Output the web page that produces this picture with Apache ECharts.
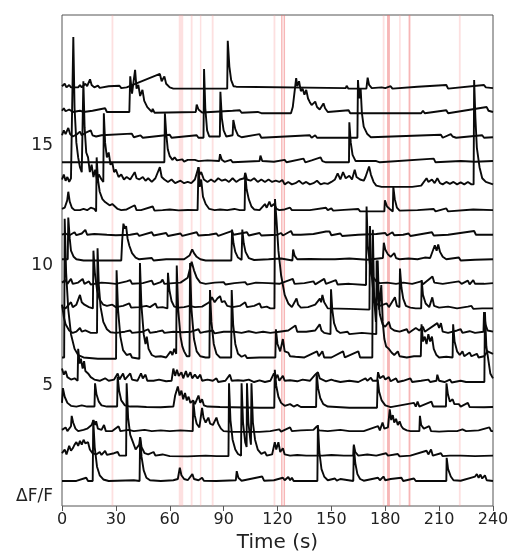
<!DOCTYPE html>
<html>
<head>
<meta charset="utf-8">
<script src="https://cdn.jsdelivr.net/npm/echarts@6/dist/echarts.min.js"></script>
<style>
  html, body { margin: 0; padding: 0; background: #fff; }
  #main { width: 512px; height: 558px; }
</style>
</head>
<body>
<div id="main"></div>
<script>
// time ticks (s)
var timeTicks = [0, 30, 60, 90, 120, 150, 180, 210, 240];
// y labels and where they sit (in trace-spacing units)
var yLabelText = ['ΔF/F', '5', '10', '15'];
var yLabelPos = [0.4, 4.9, 9.8, 14.7];
// stimulus bands [start, end] in s
var lightBands = [[27.6,28.6],[65,67.5],[71.7,72.7],[76.8,77.6],[83.4,84.4],[117.8,118.8],[178.6,179.6],[187.7,188.6],[221,222]];
var darkBands = [[122,122.8],[123.4,124.2],[181,182.6],[193,194]];

// traces: [time, dF/F in trace-spacing units], bottom (0) to top (16)
var trace0 = [[0,0.02],[8,0.02],[13.5,0.15],[14.5,0.02],[17.1,0.02],[17.4,2.5],[18.2,1.4],[19.5,0.6],[21,0.25],[23,0.08],[26,0.02],[40,0.05],[43.2,0.02],[43.5,1.8],[44.3,1.0],[45.5,0.45],[47,0.15],[49,0.05],[55,0.02],[62,0.05],[64.5,0.1],[65.6,0.56],[66.5,0.25],[68,0.1],[70,0.05],[72.6,0.3],[73.5,0.1],[76,0.05],[78,0.15],[79,0.03],[86,0.02],[96.8,0.05],[97.3,0.42],[98.2,0.15],[100,0.03],[111.5,0.2],[112.5,0.03],[118,0.05],[123,0.15],[124,0.05],[126,0.18],[127,0.05],[128,0.15],[129,0.02],[142.2,0.02],[142.5,2.3],[143.3,1.2],[144.5,0.5],[146,0.2],[148,0.05],[152,0.12],[153,0.03],[155,0.1],[156,0.02],[162.2,0.02],[162.5,1.44],[163.3,0.75],[164.5,0.3],[166,0.1],[168,0.03],[176,0.15],[177,0.05],[179,0.2],[180,0.05],[183,0.1],[184,0.02],[189,0.15],[190,0.02],[196,0.12],[197,0.02],[214,0.02],[214.2,0.96],[215,0.5],[216.5,0.2],[218,0.05],[222,0.03],[230,0.2],[231,0.3],[232,0.15],[233,0.28],[234,0.12],[235.5,0.25],[236.5,0.05],[240,0.02]];
var trace1 = [[0,0.15],[1.5,0.3],[2.5,0.1],[4,0.45],[5,0.25],[6,0.35],[7,0.5],[8,0.6],[9,0.45],[10,0.65],[11,0.5],[12,0.7],[13,0.55],[14.5,0.6],[15.5,0.3],[17,0.15],[19,0.1],[21,0.2],[22,0.08],[24,0.25],[25,0.08],[29,0.15],[31,0.2],[32,0.05],[35.7,0.05],[36,3.0],[36.8,1.6],[38,0.9],[39.5,0.6],[41,0.3],[43,0.5],[43.5,0.8],[44.3,0.4],[46,0.15],[48,0.1],[51,0.2],[52,0.05],[56,0.1],[60,0.03],[70,0.02],[80,0.05],[86,0.03],[92.7,0.03],[93,3.0],[93.8,1.5],[95,0.7],[96.5,0.3],[98,0.12],[99.7,0.05],[100,3.0],[100.8,1.4],[102,0.6],[102.8,0.4],[103,3.0],[103.8,1.4],[105,0.6],[105.2,0.5],[105.5,3.0],[106.3,1.4],[107.5,0.7],[109,0.3],[111,0.12],[113,0.2],[114,0.05],[117,0.1],[118.5,0.6],[119.3,0.3],[120.5,0.6],[121.5,0.2],[123,0.35],[124,0.1],[127,0.05],[131,0.08],[136,0.05],[145,0.05],[150,0.08],[157,0.05],[162.2,0.05],[162.5,0.5],[163.3,0.2],[165,0.05],[170,0.1],[175,0.05],[180.5,0.15],[181.5,0.05],[187,0.12],[188,0.02],[194,0.05],[203,0.25],[204,0.1],[205.5,0.3],[206.5,0.05],[211,0.15],[212,0.03],[216,0.05],[222,0.05],[230,0.03],[240,0.05]];
var trace2 = [[0,0.1],[2,0.2],[3,0.05],[5,0.25],[5.4,0.67],[6.2,0.4],[7.5,0.15],[9,0.05],[12,0.1],[14,0.15],[16.5,0.3],[17.5,0.5],[18.5,0.3],[19,0.45],[20,0.15],[22,0.1],[23.4,0.3],[24.4,0.05],[28,0.05],[31.5,0.25],[32.5,0.05],[37,0.1],[40,0.05],[46,0.1],[50,0.05],[55,0.08],[60,0.05],[66,0.08],[72.8,0.05],[73.1,1.28],[73.9,0.7],[75,0.35],[76.5,0.2],[78,1.0],[78.8,0.6],[80,0.4],[81.5,0.6],[82.5,0.35],[84,0.3],[86,0.6],[87,0.35],[88.5,0.15],[90,0.05],[95,0.02],[110,0.02],[116,0.05],[121,0.12],[122,0.03],[127,0.2],[128,0.05],[133,0.08],[140,0.1],[142,0.25],[143,0.08],[148,0.05],[155,0.1],[160,0.05],[168,0.05],[176,0.25],[177,0.08],[178.5,0.4],[179.5,0.15],[181.5,0.2],[182.5,0.94],[183.3,0.5],[184.2,0.7],[185,0.4],[186,0.55],[187,0.3],[188,0.45],[189,0.25],[190,0.15],[192,0.08],[194,0.05],[199,0.05],[199.3,0.67],[200,0.3],[201.5,0.15],[204.5,0.25],[205.5,0.05],[210,0.03],[215,0.05],[220,0.05],[223,0.12],[224,0.2],[225,0.05],[232,0.08],[238,0.2],[239,0.05],[240,0.05]];
var trace3 = [[0,0.2],[0.5,0.8],[1.5,0.45],[3,0.2],[5,0.08],[8,0.05],[11,0.1],[14,0.05],[18.1,0.05],[18.4,1.0],[19.2,0.55],[20.5,0.25],[22,0.1],[25,0.05],[30.7,0.05],[31,1.26],[31.8,0.7],[33,0.3],[35,0.1],[38,0.05],[42,0.05],[47,0.03],[55,0.02],[62,0.05],[63,0.5],[64.5,0.87],[65.5,0.5],[66.5,0.7],[67.5,0.35],[68.5,0.6],[69.5,0.3],[70.5,0.45],[71.5,0.2],[73,0.3],[74,0.15],[76,0.5],[77,0.2],[78,0.35],[79,0.1],[81,0.05],[88,0.03],[95,0.02],[110,0],[118.2,0],[118.5,1.55],[119.3,0.9],[120.5,0.45],[122,0.2],[124,0.08],[127,0.15],[129,0.05],[131,0.12],[133,0.03],[141.5,0.03],[141.8,1.42],[142.6,0.8],[143.8,0.4],[145.5,0.15],[148,0.05],[160,0],[175.4,0],[175.8,1.15],[176.6,0.65],[178,0.3],[180,0.1],[183,0.03],[196,0.2],[197,0.05],[198,0.25],[199,0.05],[205.7,0.25],[206.7,0.05],[213.8,0.05],[214.1,1.0],[214.9,0.55],[216,0.25],[217.5,0.35],[218.5,0.15],[221,0.15],[222,0.05],[226,0.2],[227,0.03],[235,0.02],[240,0.03]];
var trace4 = [[0,0.6],[1,0.35],[2,0.5],[3,0.25],[5,0.15],[7,0.2],[8.7,0.1],[9,1.4],[9.8,0.8],[10.5,1.0],[11.5,0.6],[12.3,0.9],[13,0.5],[14.5,0.4],[16,0.25],[18,0.15],[21,0.1],[24,0.2],[26,0.1],[29,0.15],[31,0.4],[32,0.15],[34,0.4],[35,0.15],[38,0.4],[39,0.15],[42,0.1],[44,0.4],[45,0.2],[46.5,0.35],[47.5,0.1],[51,0.1],[54,0.15],[58,0.08],[61,0.1],[62,0.6],[63,0.3],[64,0.55],[65,0.3],[66.5,0.45],[67.5,0.2],[69,0.5],[70,0.25],[71.5,0.45],[72.5,0.2],[74,0.35],[75.5,0.2],[77,0.35],[78,0.1],[81,0.15],[84,0.1],[86,0.2],[87,0.05],[91,0.1],[93.5,0.35],[94.5,0.1],[98,0.12],[101,0.1],[104,0.15],[107,0.05],[110,0.12],[113,0.05],[116,0.1],[118,0.4],[119,0.2],[120,0.35],[121,0.1],[123,0.3],[124,0.1],[127,0.12],[131,0.08],[134,0.15],[138,0.1],[141,0.35],[142.5,0.45],[143.5,0.2],[145,0.15],[147,0.08],[150,0.15],[152,0.1],[155,0.05],[160,0.1],[165,0.05],[169,0.2],[170,0.1],[172,0.22],[173,0.1],[175.5,0.1],[176,0.45],[177,0.2],[179,0.3],[180,0.15],[182,0.25],[183,0.08],[186,0.2],[187,0.05],[190,0.1],[194,0.2],[195,0.05],[200,0.1],[204,0.15],[205,0.05],[208.5,0.1],[209,0.35],[210,0.1],[213,0.05],[216,0.15],[217,0.03],[222,0.1],[225,0.05],[229,0.05],[235.2,0.05],[235.5,2.9],[236.3,1.5],[237.5,0.9],[238.5,0.4],[240,0.2]];
var trace5 = [[0,0.05],[1.2,0.05],[1.5,5.7],[2.3,3.5],[3.5,2.0],[5,1.0],[7,0.4],[9,0.15],[12,0.05],[20,0],[30.1,0],[30.4,3.6],[31.2,2.0],[32.5,0.9],[34,0.35],[36,0.15],[38,0.2],[39,0.05],[43.1,0],[43.4,3.9],[44.2,2.2],[45.5,1.0],[46.5,0.6],[47.2,0.9],[48.2,0.4],[50,0.15],[52,0.08],[55,0.1],[58,0.05],[60.5,0.3],[61.5,0.15],[62.5,0.4],[63.6,0.2],[63.9,3.8],[64.7,2.0],[66,0.9],[67,0.5],[68,0.3],[69.5,0.1],[71,0.1],[71.3,3.9],[72.1,2.0],[73.5,0.8],[75,0.3],[77,0.1],[80,0.05],[82.1,0.05],[82.4,2.8],[83.2,1.5],[84.5,0.6],[86,0.2],[88,0.05],[94.2,0.05],[94.5,2.8],[95.3,1.4],[96.5,0.6],[98,0.2],[100,0.08],[102,0.15],[103,0.03],[110,0.05],[118.8,0.05],[119.1,1.2],[120,0.6],[121.5,0.3],[123,0.8],[124,0.3],[126,0.25],[127,0.1],[130,0.08],[135,0.05],[142,0.3],[143,0.1],[145,0.3],[146,0.05],[150,0.05],[156.5,0.3],[157.5,0.05],[165,0.3],[166,0.05],[172.8,0.05],[173.1,5.25],[173.8,2.5],[174.8,1.5],[175.8,4.0],[176.6,2.0],[177.8,3.0],[178.6,1.5],[179.5,0.8],[180.5,0.5],[182,0.4],[183.5,0.25],[185,0.15],[187,0.3],[188,0.1],[192,0.05],[196,0.1],[199.8,0.1],[200.2,1.4],[201,0.7],[202,0.9],[203,0.6],[204,1.0],[205,0.7],[206,0.9],[207,0.4],[208.5,0.15],[210,0.05],[214,0.08],[217.5,0.05],[217.8,1.4],[218.6,0.7],[220,0.3],[221.5,0.15],[223,0.3],[224,0.1],[227,0.25],[228,0.1],[231,0.2],[232,0.05],[235,0.1],[237,0.3],[240,0.2]];
var trace6 = [[0,1.2],[1,0.7],[2,0.4],[4,0.15],[6,0.05],[8,0.1],[10,0.25],[11,0.1],[13,0.15],[16,0.05],[19.5,0.05],[19.8,3.5],[20.5,2.0],[21.5,1.1],[23,0.5],[25,0.2],[27,0.08],[30,0.05],[35,0.1],[38,0.15],[39,0.05],[45,0.1],[48,0.2],[49,0.05],[53,0.1],[56,0.15],[57,0.05],[62,0.1],[67,0.08],[72,0.1],[76,0.2],[77,0.05],[80,0.1],[84,0.15],[85,0.03],[90,0.1],[96,0.1],[100,0.05],[104,0.12],[108,0.05],[112,0.1],[116,0.05],[121,0.1],[126,0.15],[130,0.35],[131,0.1],[136,0.1],[141,0.15],[143.5,0.4],[144.5,0.15],[146,0.05],[149.5,0],[149.8,1.83],[150.5,1.0],[151.5,0.45],[153,0.15],[155,0.05],[159,0.1],[160,0],[167,0.05],[175,0],[175.2,3.0],[176,1.6],[177,0.8],[178.5,0.4],[180,0.3],[182,0.5],[183,0.25],[185,0.15],[188,0.1],[192,0.2],[193,0.05],[197,0.25],[199,0.15],[201,0.3],[202,0.1],[209,0.45],[210,0.25],[211,0.45],[212,0.1],[215,0.05],[220,0.15],[222,0.2],[223,0.05],[227,0.12],[230,0.05],[234.7,0.1],[235,0.9],[235.8,0.4],[237,0.15],[240,0.1]];
var trace7 = [[0,0.1],[2,0.05],[5,0.3],[6,0.1],[8,0.2],[10,0.6],[11,0.3],[12.5,0.2],[15,0.1],[17.2,0.05],[17.5,2.4],[18.3,1.5],[19.5,0.8],[21,0.4],[23,0.2],[25,0.15],[28,0.2],[30,0.1],[34,0.15],[37.5,0.25],[38.5,0.08],[43,0.1],[47,0.15],[49,0.1],[52,0.25],[53,0.08],[56,0.1],[58.7,0.05],[59,1.5],[59.8,0.8],[61,0.35],[62.5,0.12],[65,0.08],[68,0.1],[71,0.15],[74,0.1],[78,0.12],[82,0.3],[83.5,0.5],[85,0.3],[86.5,0.45],[88,0.55],[89,0.3],[90.5,0.35],[92,0.15],[95,0.1],[99,0.15],[102,0.3],[103,0.1],[107,0.15],[110,0.25],[111,0.08],[114,0.12],[116,0.05],[118.3,0.05],[118.6,4.5],[119.5,3.6],[120.5,2.4],[122,1.4],[124,0.6],[126,0.25],[128,0.1],[130.6,0.45],[131.5,0.2],[133,0.08],[137,0.1],[141,0.2],[143.6,0.45],[144.3,0.3],[145,0.6],[146,0.3],[148,0.05],[160,0.03],[171.2,0],[171.5,3.4],[172.2,1.6],[173.5,0.6],[175,0.25],[177,0.15],[180.8,0.25],[182,0.1],[185.4,0.5],[186.5,0.15],[187.9,0.1],[188.2,1.67],[189,0.9],[190,0.45],[191.5,0.15],[194,0.08],[197,0.05],[200,0.05],[200.3,1.2],[201,0.6],[202.5,0.25],[204.5,0.1],[206.2,0.5],[207.2,0.15],[210,0.08],[215,0.12],[220,0.05],[226,0.12],[228,0.15],[229,0.03],[234,0.05],[240,0.05]];
var trace8 = [[0,0.1],[2,0.2],[3,0.05],[5,0.25],[6,0.05],[9,0.1],[11.5,0.25],[12.5,0.05],[15,0.15],[16,0.02],[22,0.1],[26,0.08],[30,0.05],[36,0.15],[38,0.2],[39,0.05],[45,0.08],[50,0.18],[51,0.02],[55,0.12],[56,0.22],[57,0.05],[62,0.08],[66,0.1],[70,0.3],[72.2,0.95],[73.5,0.6],[75,0.3],[77,0.1],[80,0.05],[85,0.1],[90,0.12],[91,0.02],[96,0.08],[102,0.12],[103,0.02],[108,0.1],[115,0.08],[121,0.05],[128.5,0.25],[129.5,0.05],[135,0.08],[140,0.15],[141,0.03],[146,0.25],[147,0.05],[152.5,0.2],[153.5,0.02],[160,0.05],[169.3,0],[169.6,3.2],[170.3,1.6],[171.5,0.8],[173,0.35],[175,0.15],[177,0.08],[181,0.1],[186,0.05],[190,0.1],[195,0.05],[200,0.15],[201,0.03],[206.3,0.35],[207.3,0.1],[212,0.05],[221,0.15],[222.5,0.05],[226,0.18],[227,0.03],[229,0.2],[230,0.05],[235,0.05],[240,0.08]];
var trace9 = [[0,0.05],[3.2,0.05],[3.5,1.75],[4.3,0.9],[5,0.4],[6.5,0.15],[8,0.05],[12,0],[33,0],[33.5,0.8],[34.2,1.5],[35,1.3],[35.7,1.4],[36.5,0.9],[37.5,0.6],[39,0.3],[41,0.12],[43,0.05],[50,0.1],[51,0],[58,0.05],[68,0.05],[71,0.2],[72.5,0.45],[73.5,0.3],[75,0.15],[77,0.05],[80,0],[94.3,0],[94.7,1.26],[95.5,0.7],[96.5,0.35],[98,0.12],[100,0.02],[100.2,0],[100.4,1.26],[101.2,0.7],[102.2,0.35],[104,0.1],[107,0.02],[115,0.05],[122,0.08],[128.3,0],[128.7,0.45],[129.5,0.2],[131,0.05],[138,0.06],[145,0.05],[152,0.05],[160,0.08],[170,0.03],[178.7,0.1],[179.2,0.72],[180,0.45],[181.5,0.25],[183,0.15],[185,0.3],[186,0.1],[188,0.05],[193,0.08],[198,0.05],[202,0.12],[205,0.1],[207.6,0.62],[208.6,0.4],[209.5,0.65],[210.5,0.35],[212,0.15],[214,0.05],[221,0.12],[222,0],[230,0.03],[240,0.05]];
var trace10 = [[0,0.05],[2,0.1],[4,0.02],[7,0.15],[8,0.03],[11,0.1],[13,0.25],[14,0.05],[18,0.08],[25,0.05],[30,0.03],[38,0.05],[42,0.1],[43,0],[50,0.15],[51,0.02],[58,0.12],[59,0],[66,0.1],[67,0],[75,0.15],[76,0.02],[82,0.05],[86,0.1],[87,0],[94.5,0.2],[95.5,0.05],[103,0.15],[104,0.02],[110,0.12],[111,0.02],[120,0.05],[122,0.12],[123,0.02],[127.5,0.2],[128.5,0.05],[133,0.05],[140,0.08],[147,0.18],[148,0.1],[149,0.18],[150,0.03],[155,0.1],[156,0],[165,0.05],[175,0.08],[180,0.12],[181,0.02],[184,0.15],[185,0.03],[190,0.05],[193,0.1],[194,0],[206,0.15],[207,0.02],[215,0.05],[229.5,0.2],[230.5,0.05],[240,0.05]];
var trace11 = [[0,0.1],[1.5,0.15],[2.9,0.45],[3.5,0.8],[4.3,0.4],[5.5,0.15],[7,0.05],[10,0.05],[12,0.1],[14,0.05],[16,0.15],[18,0.1],[19,0],[19.3,2.2],[20,1.3],[21,0.8],[22.5,0.5],[24,0.38],[25,0.3],[26.5,0.25],[28,0.3],[29.5,0.2],[31,0.1],[33,0.05],[36,0.08],[40.5,0.25],[41.5,0.05],[44,0.05],[50.5,0.2],[51.5,0.03],[56,0.05],[60,0.08],[65,0.04],[70,0.06],[75.5,0.05],[76,1.8],[76.7,1.0],[77.5,1.3],[78.5,0.6],[80,0.3],[82,0.1],[85,0.05],[88,0.08],[92,0.05],[96,0.1],[99,0.05],[101.7,0.05],[102,1.55],[102.8,0.9],[104,0.5],[105.5,0.2],[107,0.08],[110,0.05],[113,0.3],[114,0.15],[115.5,0.4],[116.5,0.2],[118,0.3],[119.5,0.1],[121,0.05],[124,0.08],[127,0.15],[128,0.05],[138,0.05],[147,0.15],[148,0.05],[150,0.12],[151,0.03],[157,0.06],[165,0.1],[166,0],[179.5,0],[179.8,0.45],[181,0.2],[182.5,0.1],[184.2,0],[184.5,1.0],[185.3,0.5],[186.5,0.15],[188,0.03],[198,0.05],[207,0.1],[208,0],[214,0.12],[215,0],[229,0.08],[230,0],[240,0.05]];
var trace12 = [[0,0.3],[1,0.5],[2,0.25],[3,0.4],[4,0.2],[5,0.35],[6,0.3],[6.3,6.1],[7,3.2],[8,1.8],[9,1.2],[10,0.8],[11,0.6],[11.9,4.3],[12.6,2.4],[13.5,1.4],[14.5,1.2],[15.5,0.6],[16.5,0.9],[17.5,0.4],[18.5,0.7],[19.5,0.3],[20.5,0.5],[22,0.3],[23,0.2],[23.3,3.0],[24,1.8],[25,1.2],[26,1.4],[27,0.9],[28,1.0],[29,0.6],[30,0.7],[31.5,0.4],[33,0.5],[34.5,0.3],[36,0.4],[38,0.3],[40.5,0.6],[41.5,0.35],[43,0.3],[45,0.4],[46.5,0.25],[48,0.35],[50,0.2],[52,0.35],[54.5,0.8],[55.5,0.4],[57,0.3],[59,0.2],[61,0.3],[63,0.15],[66,0.25],[68,0.15],[70,0.2],[72,0.15],[74,0.3],[76,0.8],[76.5,0.5],[77.5,0.6],[79,0.3],[81,0.2],[83,0.3],[85,0.2],[87,0.35],[89,0.25],[91,0.3],[93,0.2],[95,0.35],[97,0.2],[99,0.3],[101.5,0.35],[102,0.57],[103,0.3],[105,0.25],[107,0.35],[109,0.2],[111,0.3],[113,0.2],[115,0.3],[117,0.2],[119,0.25],[121,0.2],[122.7,0.28],[124,0.1],[126,0.2],[128,0.1],[130,0.15],[132,0.25],[134,0.12],[136,0.2],[138,0.1],[140,0.15],[142,0.25],[144,0.1],[146,0.15],[148,0.12],[150,0.2],[152,0.3],[153.5,0.55],[155,0.3],[156.5,0.6],[158,0.35],[160,0.45],[161.5,0.3],[163,0.7],[164,0.4],[166,0.3],[168,0.25],[169,0.4],[171,0.83],[172,0.5],[173.5,0.2],[175,0.05],[178,0],[195,0],[200,0.05],[203,0.35],[204,0.2],[206,0.3],[207.5,0.15],[209,0.35],[210.5,0.15],[212,0.1],[214,0.2],[216,0.12],[218,0.2],[220,0.1],[222,0.18],[224,0.1],[226,0.2],[228,0.1],[229.2,0.1],[229.5,4.35],[230.2,2.8],[231,1.6],[232.5,0.8],[234,0.35],[236,0.2],[238,0.15],[240,0.1]];
var trace13 = [[0,0],[57,0],[57.3,2.0],[58,1.2],[58.9,0.53],[60,0.25],[61.5,0.1],[62.7,0.2],[64,0.08],[67,0.12],[68,0.03],[70,0.1],[71,0.02],[74,0.1],[76,0.05],[81,0.08],[82,0],[87.5,0.05],[88,0.33],[89,0.1],[90.5,0.02],[94,0.1],[95,0],[110,0.05],[110.5,0.27],[111.5,0.05],[118,0.02],[124,0.1],[125,0],[134.5,0.15],[135.5,0],[139,0.08],[140,0],[144,0.2],[145,0.05],[147,0],[159.8,0],[160,1.63],[160.8,0.8],[161.8,0.3],[163.5,0.05],[175,0.05],[176,0.1],[177,0],[207,0.15],[208,0],[222,0.05],[230,0.02],[240,0.05]];
var trace14 = [[0,0.1],[1,0.3],[2,0.15],[3.5,0.4],[4.5,0.15],[6,0.05],[8.5,0.15],[10,0.25],[11,0.1],[13,0.2],[14.5,0.25],[16,0.3],[17,0.1],[19,0.05],[22,0.1],[23,0.02],[38.8,0.17],[40,0.02],[43.7,0.1],[45,0],[60,0.12],[61,0],[75,0.1],[76,0],[78.8,0],[79.1,2.8],[79.8,1.2],[80.8,0.3],[82,0.05],[87.9,0.05],[88.2,1.87],[89,0.8],[90,0.3],[91.5,0.05],[95,0.1],[95.4,0.72],[96.5,0.35],[98,0.1],[100,0.02],[110,0.15],[111,0],[138,0.1],[139,0],[141,0.1],[142,0],[164.5,0],[164.8,2.35],[165.5,1.6],[166.3,2.0],[167,1.0],[168,0.45],[170,0.15],[172,0.02],[211,0.12],[212,0],[216.5,0.15],[217.5,0.05],[218.5,0.1],[219.5,0],[234,0.1],[235,0],[240,0.02]];
var trace15 = [[0,0.1],[1,0.2],[2,0.08],[4,0.15],[6,0.05],[10,0.1],[12,0.05],[17,0.1],[18,0.02],[24,0.2],[25,0.05],[37.5,0.05],[38,1.5],[39,0.8],[40.7,1.77],[41.5,1.0],[42.5,1.15],[43.5,0.7],[44.8,0.95],[45.8,0.5],[47.5,0.25],[50,0.05],[50.5,0.18],[51.5,0.02],[74.5,0.05],[75,0.35],[76,0.15],[78,0.03],[95,0.1],[96,0.02],[99,0.12],[100,0.02],[109,0.05],[110,0.1],[111,0],[127.5,0],[128.5,0.25],[130.4,1.43],[131,1.1],[132,1.3],[133,0.9],[134,1.0],[135,0.75],[136,0.95],[137,0.6],[138,0.45],[139,0.33],[140,0.25],[141,0.47],[142,0.25],[143.5,0.15],[145.6,0.4],[146.5,0.2],[148,0.05],[159.6,0.12],[160.5,0],[200,0],[201,0.1],[202,0],[214,0.12],[215,0],[236.5,0.25],[237.5,0.1],[240,0.05]];
var trace16 = [[0,0.1],[1.5,0.2],[2.5,0.05],[4,0.15],[5,0.05],[9,0.05],[10,0.15],[11,0.05],[13,0.2],[14,0.1],[15.6,0.38],[16.5,0.15],[18,0.05],[20,0.12],[21,0.03],[26,0.1],[27,0.02],[32,0.12],[33,0.02],[36,0.05],[54.5,0.6],[55.5,0.3],[57,0.5],[58,0.2],[60,0.05],[62,0],[92,0],[92.3,1.95],[93.2,0.9],[94.2,0.35],[95.5,0.1],[97,0.08],[98,0.02],[158,0.02],[158.5,0.12],[159.5,0],[169.5,0],[170.2,0.45],[171,0.15],[172.5,0.02],[178,0.05],[179,0.12],[180,0.02],[183,0.1],[184,0],[198,0.08],[199,0],[214,0.15],[215,0],[235,0.15],[236,0.05],[240,0.02]];

var traces = [trace0, trace1, trace2, trace3, trace4, trace5, trace6, trace7, trace8,
    trace9, trace10, trace11, trace12, trace13, trace14, trace15, trace16];

var chart = echarts.init(document.getElementById('main'));

function bandAreas(list) {
    return list.map(function(b) {
        return [{ xAxis: b[0] }, { xAxis: b[1] }];
    });
}

var series = [];
series.push({
    name: 'bandsLight', type: 'line', data: [[0, 0], [240, 0]], z: 1,
    symbol: 'none', lineStyle: { opacity: 0 }, silent: true,
    markArea: { silent: true, itemStyle: { color: 'rgba(248,160,160,0.32)' }, data: bandAreas(lightBands) }
});
series.push({
    name: 'bandsDark', type: 'line', data: [[0, 0], [240, 0]], z: 1,
    symbol: 'none', lineStyle: { opacity: 0 }, silent: true,
    markArea: { silent: true, itemStyle: { color: 'rgba(240,110,110,0.5)' }, data: bandAreas(darkBands) }
});
traces.forEach(function(tr, i) {
    series.push({
        name: 'cell' + i,
        type: 'line',
        z: 3,
        symbol: 'none',
        animation: false,
        lineStyle: { color: '#0a0a0a', width: 1.9 },
        data: tr.map(function(p) { return [p[0], p[1] + i + 1]; })
    });
});

var option = {
    animation: false,
    backgroundColor: '#fff',
    grid: { left: 62, right: 19, top: 15, bottom: 52, show: true, borderColor: '#555', borderWidth: 1, backgroundColor: 'transparent' },
    xAxis: {
        type: 'value', min: 0, max: 240, interval: 30,
        name: 'Time (s)', nameLocation: 'middle', nameGap: 27,
        nameTextStyle: { fontFamily: 'DejaVu Sans', fontSize: 20, color: '#222' },
        axisLine: { show: false },
        axisTick: { show: true, length: 5, lineStyle: { color: '#555' } },
        axisLabel: { fontFamily: 'DejaVu Sans', fontSize: 16, color: '#222', margin: 6,
            formatter: function(v) { return timeTicks.indexOf(v) >= 0 ? String(v) : ''; } },
        splitLine: { show: false }
    },
    yAxis: {
        type: 'value', min: 0, max: 20, interval: 0.1,
        axisLine: { show: false },
        axisTick: { show: false },
        splitLine: { show: false },
        axisLabel: {
            fontFamily: 'DejaVu Sans', fontSize: 17, color: '#222', margin: 9,
            formatter: function(v) {
                var k = Math.round(v * 10);
                for (var j = 0; j < yLabelPos.length; j++) {
                    if (Math.round(yLabelPos[j] * 10) === k) return yLabelText[j];
                }
                return '';
            }
        }
    },
    series: series
};
chart.setOption(option);
</script>
</body>
</html>
